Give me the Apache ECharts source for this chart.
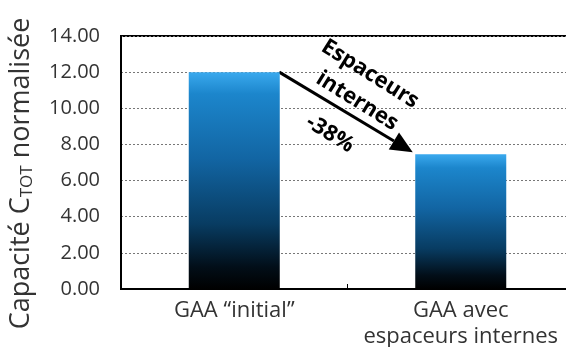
<!DOCTYPE html>
<html lang="fr">
<head>
<meta charset="UTF-8">
<title>Capacité normalisée</title>
<script src="https://cdn.jsdelivr.net/npm/echarts@6/dist/echarts.min.js"></script>
<style>
  html, body { margin: 0; padding: 0; background: #fff; }
  #main { width: 566px; height: 347px; }
</style>
</head>
<body>
<div id="main"></div>
<script>
// données du graphique
var categories = ['GAA \u201cinitial\u201d', 'GAA avec\nespaceurs internes'];
var capacite = [12.0, 7.45];
var yTicks = { min: 0, max: 14, interval: 2 };
var annotation = ['Espaceurs', 'internes', '-38%'];

var FONT = 'Open Sans';

var barColor = new echarts.graphic.LinearGradient(0, 0, 0, 1, [
    { offset: 0, color: '#3aa9ee' },
    { offset: 0.1, color: '#1c86cc' },
    { offset: 0.4, color: '#1265a3' },
    { offset: 0.7, color: '#083c62' },
    { offset: 0.9, color: '#020e18' },
    { offset: 1, color: '#000000' }
]);

var myChart = echarts.init(document.getElementById('main'));

var option = {
    animation: false,
    grid: {
        left: 121, right: -8, top: 36, bottom: 58,
        outerBoundsMode: 'none',
        show: true, borderColor: '#000', borderWidth: 2
    },
    xAxis: {
        type: 'category',
        data: categories,
        axisLine: { lineStyle: { color: '#000', width: 2 } },
        axisTick: { show: true, inside: true, length: 5, lineStyle: { color: '#000' } },
        axisLabel: { interval: 0, color: '#333', fontFamily: FONT, fontSize: 22, lineHeight: 26, margin: 9 }
    },
    yAxis: {
        type: 'value',
        min: yTicks.min,
        max: yTicks.max,
        interval: yTicks.interval,
        name: '{a|Capacité C}{s|TOT}{a| normalisée}',
        nameLocation: 'middle',
        nameGap: 85,
        nameRotate: 90,
        nameTextStyle: {
            padding: [0, 22, 0, 0],
            rich: {
                a: { fontFamily: FONT, fontSize: 27, color: '#333' },
                s: { fontFamily: FONT, fontSize: 17, color: '#333', padding: [13, 0, 0, 0] }
            }
        },
        axisLine: { show: true, lineStyle: { color: '#000', width: 2 } },
        axisTick: { show: false },
        axisLabel: {
            color: '#333', fontFamily: FONT, fontSize: 20, margin: 21,
            formatter: function (v) { return v.toFixed(2); }
        },
        splitLine: { lineStyle: { color: '#777', type: [2, 2], width: 1 } }
    },
    series: [{
        type: 'bar',
        data: capacite,
        barWidth: 91,
        itemStyle: { color: barColor }
    }]
};
myChart.setOption(option);

// flèche et texte d'annotation
var p1 = myChart.convertToPixel({ seriesIndex: 0 }, [0, capacite[0]]);
var p2 = myChart.convertToPixel({ seriesIndex: 0 }, [1, capacite[1]]);
var x1 = p1[0] + 45, y1 = p1[1];
var x2 = p2[0] - 48, y2 = p2[1] - 2;
var ang = Math.atan2(y2 - y1, x2 - x1);
var hl = 22, hw = 10;
var bx = x2 - hl * Math.cos(ang), by = y2 - hl * Math.sin(ang);
var rot = -32 * Math.PI / 180;
var txtStyle = { fontFamily: FONT, fontSize: 22, fontWeight: 'bold', fill: '#000', align: 'center', verticalAlign: 'middle' };

myChart.setOption({
    graphic: [
        { type: 'line', shape: { x1: x1, y1: y1, x2: bx, y2: by }, style: { stroke: '#000', lineWidth: 3 } },
        { type: 'polygon', shape: { points: [
            [x2, y2],
            [bx + hw * Math.sin(ang), by - hw * Math.cos(ang)],
            [bx - hw * Math.sin(ang), by + hw * Math.cos(ang)]
        ] }, style: { fill: '#000' } },
        { type: 'text', x: 370, y: 74, rotation: rot, style: Object.assign({ text: annotation[0] }, txtStyle) },
        { type: 'text', x: 357, y: 101, rotation: rot, style: Object.assign({ text: annotation[1] }, txtStyle) },
        { type: 'text', x: 330, y: 134, rotation: rot, style: Object.assign({ text: annotation[2] }, txtStyle) }
    ]
});
</script>
</body>
</html>
